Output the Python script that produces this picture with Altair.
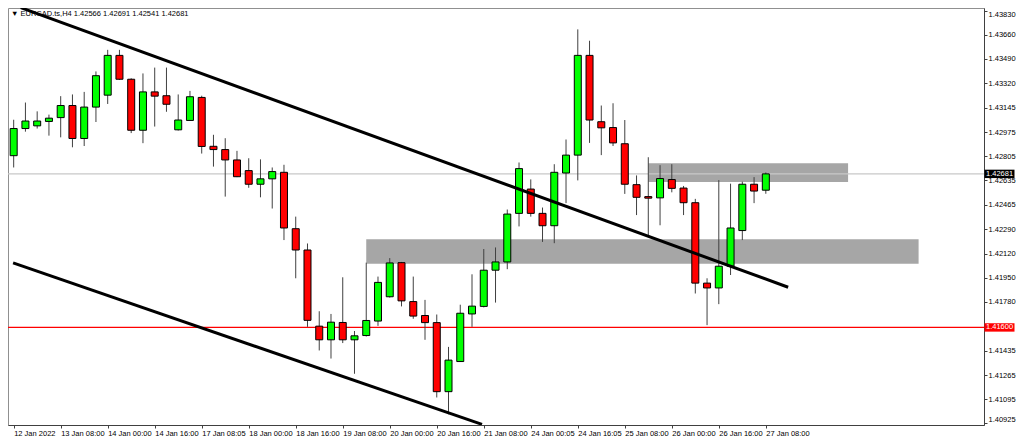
import altair as alt
import pandas as pd

# ---- data (H4 candles, index 0 = 12 Jan 2022) ----
opens = [1.42809, 1.43000, 1.43019, 1.43050, 1.43077, 1.43162, 1.42930, 1.43151, 1.43235, 1.43515,
         1.43347, 1.42988, 1.43258, 1.43231, 1.42991, 1.43057, 1.43219, 1.42875, 1.42852, 1.42779,
         1.42704, 1.42608, 1.42646, 1.42692, 1.42295, 1.42145, 1.41609, 1.41513, 1.41635, 1.41513,
         1.41543, 1.41645, 1.41816, 1.42056, 1.41782, 1.41684, 1.41634, 1.41148, 1.41360, 1.41695,
         1.41748, 1.42003, 1.42061, 1.42403, 1.42574, 1.42403, 1.42316, 1.42687, 1.42813, 1.43515,
         1.43048, 1.43007, 1.42893, 1.42605, 1.42521, 1.42512, 1.42641, 1.42581, 1.42478, 1.41912,
         1.41878, 1.42031, 1.42282, 1.42608, 1.42566]
highs = [1.43062, 1.43183, 1.43121, 1.43098, 1.43228, 1.43240, 1.43258, 1.43402, 1.43554, 1.43554,
         1.43354, 1.43388, 1.43429, 1.43429, 1.43240, 1.43265, 1.43231, 1.42956, 1.42932, 1.42843,
         1.42791, 1.42783, 1.42726, 1.42745, 1.42380, 1.42191, 1.41714, 1.41695, 1.41953, 1.41575,
         1.42056, 1.41958, 1.42088, 1.42061, 1.41958, 1.41794, 1.41691, 1.41463, 1.41760, 1.41974,
         1.42152, 1.42163, 1.42430, 1.42761, 1.42642, 1.42444, 1.42749, 1.42923, 1.43698, 1.43618,
         1.43162, 1.43178, 1.43060, 1.42670, 1.42798, 1.42742, 1.42749, 1.42596, 1.42505, 1.41946,
         1.42637, 1.42612, 1.42626, 1.42658, 1.42691]
lows = [1.42726, 1.42978, 1.43000, 1.42950, 1.42938, 1.42868, 1.42877, 1.43046, 1.43173, 1.43342,
        1.42968, 1.42897, 1.43014, 1.43118, 1.42986, 1.43055, 1.42824, 1.42732, 1.42521, 1.42658,
        1.42583, 1.42516, 1.42437, 1.42215, 1.41946, 1.41604, 1.41438, 1.41381, 1.41490, 1.41274,
        1.41536, 1.41611, 1.41810, 1.41748, 1.41661, 1.41513, 1.41107, 1.40989, 1.41358, 1.41604,
        1.41741, 1.41775, 1.42010, 1.42311, 1.42380, 1.42202, 1.42193, 1.42475, 1.42635, 1.42899,
        1.42813, 1.42877, 1.42540, 1.42391, 1.42247, 1.42319, 1.42551, 1.42391, 1.41839, 1.41616,
        1.41764, 1.41969, 1.42215, 1.42475, 1.42541]
closes = [1.43000, 1.43053, 1.43053, 1.43073, 1.43162, 1.42930, 1.43151, 1.43372, 1.43515, 1.43347,
          1.42988, 1.43258, 1.43228, 1.43171, 1.43060, 1.43224, 1.42874, 1.42852, 1.42779, 1.42661,
          1.42608, 1.42646, 1.42697, 1.42300, 1.42145, 1.41650, 1.41513, 1.41637, 1.41513, 1.41541,
          1.41649, 1.41917, 1.42054, 1.41787, 1.41680, 1.41634, 1.41148, 1.41370, 1.41700, 1.41750,
          1.42003, 1.42061, 1.42398, 1.42718, 1.42403, 1.42316, 1.42692, 1.42813, 1.43515, 1.43060,
          1.43005, 1.42899, 1.42608, 1.42516, 1.42510, 1.42648, 1.42579, 1.42478, 1.41912, 1.41878,
          1.42031, 1.42300, 1.42608, 1.42560, 1.42681]

tick_labels = ["12 Jan 2022", "13 Jan 08:00", "14 Jan 00:00", "14 Jan 16:00", "17 Jan 08:05",
               "18 Jan 00:00", "18 Jan 16:00", "19 Jan 08:00", "20 Jan 00:00", "20 Jan 16:00",
               "21 Jan 08:00", "24 Jan 00:05", "24 Jan 16:05", "25 Jan 08:00", "26 Jan 00:00",
               "26 Jan 16:00", "27 Jan 08:00"]
price_ticks = [1.43830, 1.43660, 1.43490, 1.43320, 1.43145, 1.42975, 1.42805, 1.42635, 1.42465,
               1.42290, 1.42120, 1.41950, 1.41780, 1.41435, 1.41265, 1.41095, 1.40925]

# zones (bar index start/end, price top/bottom)
zone_start = [30, 54]
zone_end = [77, 71]
zone_top = [1.42220, 1.42756]
zone_bottom = [1.42049, 1.42624]

# trend lines: two anchor points each (bar index, price)
upper_line_x = [0.6, 65.9]
upper_line_p = [1.43851, 1.41883]
lower_line_x = [-0.05, 39.85]
lower_line_p = [1.42054, 1.40918]

current_price = 1.42681
support_level = 1.41600
header = "\u25BC  EURCAD.ts,H4  1.42566 1.42691 1.42541 1.42681"

# ---- build tables ----
candles = pd.DataFrame({
    "i": list(range(len(opens))),
    "open": opens, "high": highs, "low": lows, "close": closes,
})

zones = pd.DataFrame({"x1": zone_start, "x2": zone_end, "top": zone_top, "bot": zone_bottom})
lines = pd.DataFrame({
    "x": upper_line_x + lower_line_x,
    "p": upper_line_p + lower_line_p,
    "name": ["upper"] * 2 + ["lower"] * 2,
})
cur_df = pd.DataFrame({"p": [current_price], "txt": [f"{current_price:.5f}"]})
sup_df = pd.DataFrame({"p": [support_level], "txt": [f"{support_level:.5f}"]})

W, H = 976, 417
FONT = "Liberation Sans"
FS = 7.5

label_expr = "[" + ",".join(f"'{s}'" for s in tick_labels) + "][round(datum.value/4)]"

xscale = alt.Scale(domain=[-0.058, 82.14], nice=False, zero=False)
yscale = alt.Scale(domain=[1.409133, 1.438485], nice=False, zero=False)
xaxis = alt.Axis(values=list(range(0, 4 * len(tick_labels), 4)), labelExpr=label_expr,
                 labelAlign="left", labelBaseline="top", tickSize=3, labelPadding=1,
                 grid=False, title=None, domainColor="#404040", tickColor="#404040",
                 labelFontSize=FS, labelFont=FONT, labelColor="#000000", labelFlush=False,
                 labelOverlap=False)
yaxis = alt.Axis(orient="right", values=price_ticks, format=".5f", tickSize=3, labelPadding=1,
                 grid=False, title=None, domainColor="#404040", tickColor="#404040",
                 labelFontSize=FS, labelFont=FONT, labelColor="#000000", labelFlush=4,
                 labelOverlap=False)


def X(field):
    return alt.X(field, type="quantitative", scale=xscale, axis=xaxis)


def Y(field):
    return alt.Y(field, type="quantitative", scale=yscale, axis=yaxis)


zone_layer = alt.Chart(zones).mark_rect(color="#a6a6a6").encode(
    x=X("x1"), x2="x2", y=Y("top"), y2="bot")

cur_line = alt.Chart(cur_df).mark_rule(strokeWidth=1.2, color="#c8c8c8").encode(y=Y("p"))
sup_line = alt.Chart(sup_df).mark_rule(strokeWidth=1.3, color="#ff0000").encode(y=Y("p"))

wicks = alt.Chart(candles).mark_rule(color="#404040", strokeWidth=1).encode(
    x=X("i"), y=Y("low"), y2="high")

bodies = alt.Chart(candles).mark_bar(size=7, stroke="#000000", strokeWidth=1).encode(
    x=X("i"), y=Y("open"), y2="close",
    fill=alt.condition(alt.datum.close >= alt.datum.open,
                       alt.value("#00ff00"), alt.value("#ff0000")))

trend = alt.Chart(lines).mark_line(color="#000000", strokeWidth=3, clip=True).encode(
    x=X("x"), y=Y("p"), detail="name:N")

box_path = "M-1,-0.28L1,-0.28L1,0.28L-1,0.28Z"
cur_box = alt.Chart(cur_df).mark_point(shape=box_path, filled=True, opacity=1, size=30 * 30,
                                        color="#000000").encode(x=alt.value(W + 15.5), y=Y("p"))
sup_box = alt.Chart(sup_df).mark_point(shape=box_path, filled=True, opacity=1, size=30 * 30,
                                        color="#ff0000").encode(x=alt.value(W + 15.5), y=Y("p"))
cur_txt = alt.Chart(cur_df).mark_text(align="left", baseline="middle", color="#ffffff",
                                      font=FONT, fontSize=FS).encode(
    x=alt.value(W + 2), y=Y("p"), text="txt:N")
sup_txt = alt.Chart(sup_df).mark_text(align="left", baseline="middle", color="#ffffff",
                                      font=FONT, fontSize=FS).encode(
    x=alt.value(W + 2), y=Y("p"), text="txt:N")

head = alt.Chart(pd.DataFrame({"t": [header]})).mark_text(
    align="left", baseline="middle", font=FONT, fontSize=FS, color="#000000").encode(
    x=alt.value(3), y=alt.value(6), text="t:N")

chart = alt.layer(zone_layer, cur_line, sup_line, wicks, bodies, head, trend,
                  cur_box, sup_box, cur_txt, sup_txt).properties(
    width=W, height=H,
    autosize=alt.AutoSizeParams(type="none"),
    padding={"left": 0, "top": 0, "right": 32, "bottom": 13},
    background="#ffffff",
).configure_view(stroke="#909090", strokeWidth=1)

chart.save("out.html", embed_options={"renderer": "svg", "actions": False})
